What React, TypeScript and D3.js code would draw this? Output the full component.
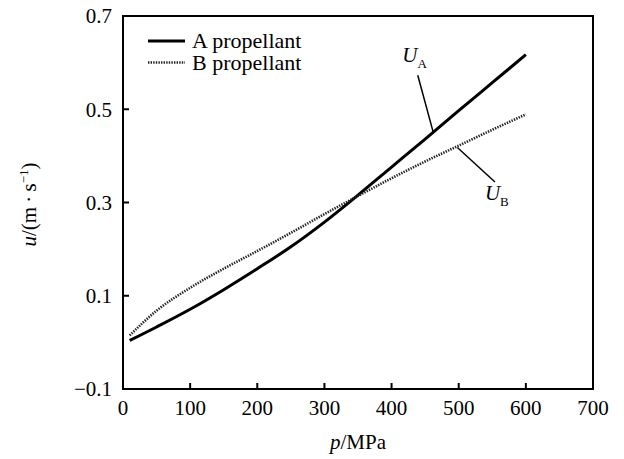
import { curveMonotoneX, line, scaleLinear } from "d3";

const pressures = [10, 50, 100, 150, 200, 250, 300, 350, 400, 450, 500, 550, 600];
const propellantA = [0.004, 0.033, 0.071, 0.113, 0.158, 0.205, 0.258, 0.316, 0.376, 0.436, 0.497, 0.557, 0.617];
const propellantB = [0.015, 0.068, 0.117, 0.158, 0.196, 0.235, 0.275, 0.314, 0.352, 0.388, 0.422, 0.456, 0.489];
const xTicks = [0, 100, 200, 300, 400, 500, 600, 700];
const yTicks = [-0.1, 0.1, 0.3, 0.5, 0.7];
const legendLabels = ["A propellant", "B propellant"];

const width = 624;
const height = 459;
const marginLeft = 123;
const marginRight = 31;
const marginTop = 16;
const marginBottom = 70;
const font = "'Liberation Serif', 'DejaVu Serif', serif";

export default function App() {
  const x = scaleLinear().domain([0, 700]).range([marginLeft, width - marginRight]);
  const y = scaleLinear().domain([-0.1, 0.7]).range([height - marginBottom, marginTop]);

  const path = line<number>()
    .x((_, i) => x(pressures[i]))
    .y(d => y(d))
    .curve(curveMonotoneX);

  // where the leader lines touch the curves
  const aIdx = 9; // p = 450
  const bIdx = 10; // p = 500

  const fmtY = (v: number) => (v < 0 ? "\u2212" + Math.abs(v).toFixed(1) : v.toFixed(1));

  return (
    <svg width={width} height={height} style={{ position: "absolute", left: 0, top: 0, background: "#fff", fontFamily: font }}>
      {/* frame */}
      <rect x={x(0)} y={y(0.7)} width={x(700) - x(0)} height={y(-0.1) - y(0.7)} fill="none" stroke="#000" strokeWidth={2} />

      {/* bottom ticks */}
      {xTicks.map(t => (
        <g key={"x" + t}>
          {t > 0 && t < 700 && <line x1={x(t)} x2={x(t)} y1={y(-0.1)} y2={y(-0.1) - 6} stroke="#000" strokeWidth={2} />}
          <text x={x(t)} y={y(-0.1) + 26} textAnchor="middle" fontSize={21}>{t}</text>
        </g>
      ))}

      {/* left ticks */}
      {yTicks.map(t => (
        <g key={"y" + t}>
          {t > -0.1 && t < 0.7 && <line x1={x(0)} x2={x(0) + 6} y1={y(t)} y2={y(t)} stroke="#000" strokeWidth={2} />}
          <text x={x(0) - 11} y={y(t)} dy="0.35em" textAnchor="end" fontSize={21}>{fmtY(t)}</text>
        </g>
      ))}

      {/* axis titles */}
      <text x={x(350)} y={449} textAnchor="middle" fontSize={21}>
        <tspan fontStyle="italic">p</tspan>/MPa
      </text>
      <text transform={`translate(36,${(y(0.7) + y(-0.1)) / 2 + 2}) rotate(-90)`} textAnchor="middle" fontSize={21}>
        <tspan fontStyle="italic">u</tspan>/(m
        <tspan>{"\u2009\u00b7\u2009"}</tspan>s
        <tspan dy={-8} fontSize={13}>{"\u22121"}</tspan>
        <tspan dy={8}>)</tspan>
      </text>

      {/* curves */}
      <path d={path(propellantA) ?? ""} fill="none" stroke="#000" strokeWidth={3} />
      <path d={path(propellantB) ?? ""} fill="none" stroke="#222" strokeWidth={2.6} strokeDasharray="1.4 1.2" />

      {/* legend */}
      {legendLabels.map((lbl, i) => (
        <g key={lbl} transform={`translate(148,${41 + i * 21.5})`}>
          {i === 0
            ? <line x1={0} x2={37} y1={0} y2={0} stroke="#000" strokeWidth={3} />
            : <line x1={0} x2={37} y1={0} y2={0} stroke="#222" strokeWidth={2.4} strokeDasharray="1.4 1.2" />}
          <text x={44} y={0} dy="0.33em" fontSize={22}>{lbl}</text>
        </g>
      ))}

      {/* annotations */}
      <line x1={x(439)} y1={y(0.573)} x2={x(pressures[aIdx] + 12)} y2={y(propellantA[aIdx] + 0.015)} stroke="#000" strokeWidth={1.5} />
      <text x={x(416)} y={y(0.601)} fontSize={21}>
        <tspan fontStyle="italic">U</tspan>
        <tspan dy={6} fontSize={13}>A</tspan>
      </text>
      <line x1={x(554)} y1={y(0.344)} x2={x(pressures[bIdx] - 2)} y2={y(propellantB[bIdx] - 0.004)} stroke="#000" strokeWidth={1.5} />
      <text x={x(539)} y={y(0.305)} fontSize={21}>
        <tspan fontStyle="italic">U</tspan>
        <tspan dy={6} fontSize={13}>B</tspan>
      </text>
    </svg>
  );
}
